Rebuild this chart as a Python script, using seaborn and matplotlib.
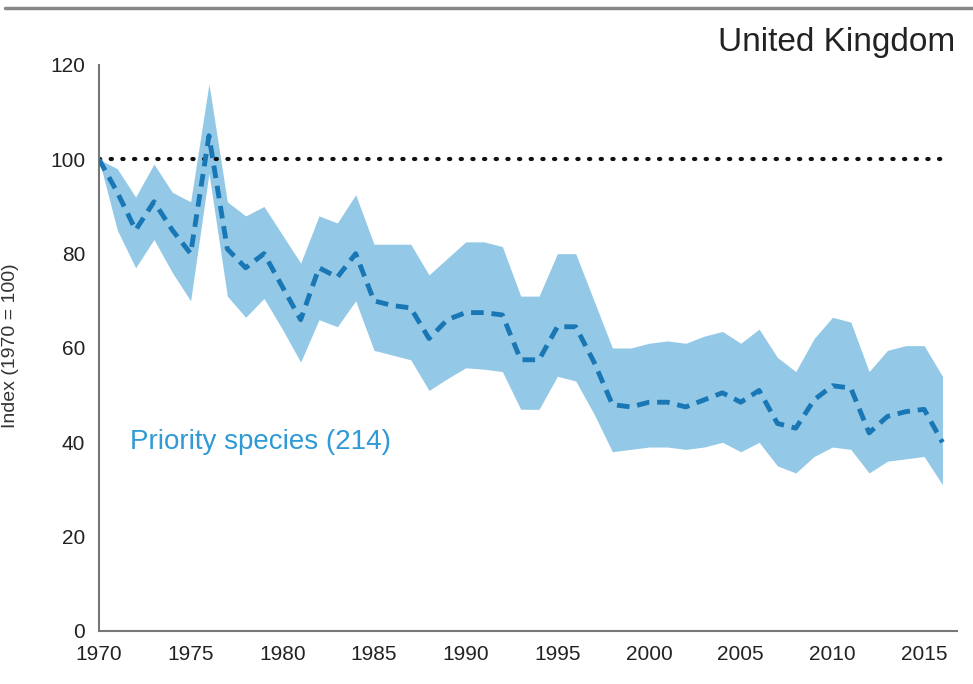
import matplotlib
matplotlib.use("Agg")
import matplotlib.pyplot as plt
import seaborn as sns
import pandas as pd
import numpy as np
from matplotlib.lines import Line2D

years = list(range(1970, 2017))
index_mean = [100, 93, 85, 91, 85, 80, 105, 81, 77, 80,
              73, 66, 77, 75, 80, 70, 69, 68.5, 62, 66,
              67.5, 67.5, 67, 57.5, 57.5, 64.5, 64.5, 57, 48, 47.5,
              48.5, 48.5, 47.5, 49, 50.5, 48.5, 51, 44, 43, 49,
              52, 51.5, 42, 45.5, 46.5, 47, 40]
index_upper = [100, 98, 92, 99, 93, 91, 116, 91, 88, 90,
               84, 78, 88, 86.5, 92.5, 82, 82, 82, 75.5, 79,
               82.5, 82.5, 81.5, 71, 71, 80, 80, 70, 60, 60,
               61, 61.5, 61, 62.5, 63.5, 61, 64, 58, 55, 62,
               66.5, 65.5, 55, 59.5, 60.5, 60.5, 54]
index_lower = [100, 85, 77, 83, 76, 70, 97, 71, 66.5, 70.5,
               64, 57, 66, 64.5, 70, 59.5, 58.5, 57.5, 51, 53.5,
               55.8, 55.5, 55, 47, 47, 54, 53, 46, 38, 38.5,
               39, 39, 38.5, 39, 40, 38, 40, 35, 33.5, 37,
               39, 38.5, 33.5, 36, 36.5, 37, 31]
yticks = [0, 20, 40, 60, 80, 100, 120]
xticks = [1970, 1975, 1980, 1985, 1990, 1995, 2000, 2005, 2010, 2015]

df = pd.DataFrame({"year": years, "mean": index_mean,
                   "upper": index_upper, "lower": index_lower})

sns.set_theme(style="white")
plt.rcParams["font.family"] = ["Liberation Sans", "DejaVu Sans"]

fig = plt.figure(figsize=(9.73, 6.84), dpi=100)
ax = fig.add_axes([0.1017, 0.0775, 0.882, 0.8275])

ax.fill_between(df["year"], df["lower"], df["upper"], color="#93c9e6",
                linewidth=0, zorder=1)
sns.lineplot(data=df, x="year", y="mean", ax=ax, color="#1a77b5",
             linewidth=3.5, linestyle=(0, (2.6, 1.6)), zorder=3)
ax.plot([1970, 2016.2], [100, 100], color="#111111", linewidth=3,
        linestyle=(0, (0.3, 2.5)), dash_capstyle="round", zorder=2)

ax.set_xlim(1970, 2016.8)
ax.set_ylim(0, 120)
ax.set_xticks(xticks)
ax.set_yticks(yticks)
ax.set_xlabel("")
ax.set_ylabel("")
ax.tick_params(axis="both", which="major", labelsize=15, colors="#222222",
               length=6, width=1.2, direction="out", pad=4)
ax.tick_params(axis="both", color="#777777")
for side in ["top", "right"]:
    ax.spines[side].set_visible(False)
for side in ["left", "bottom"]:
    ax.spines[side].set_color("#777777")
    ax.spines[side].set_linewidth(1.5)

ax.text(1971.7, 40, "Priority species (214)", color="#2f9ad6",
        fontsize=20, va="center", ha="left")

fig.text(0.982, 0.938, "United Kingdom", fontsize=24, color="#222222",
         ha="right", va="center")
fig.text(0.011, 0.495, "Index (1970 = 100)", fontsize=14, color="#333333",
         rotation=90, ha="center", va="center")

fig.add_artist(Line2D([0.005, 1.0], [0.988, 0.988], color="#888888",
                      linewidth=2.5, transform=fig.transFigure))

fig.savefig("out.png", dpi=100)
